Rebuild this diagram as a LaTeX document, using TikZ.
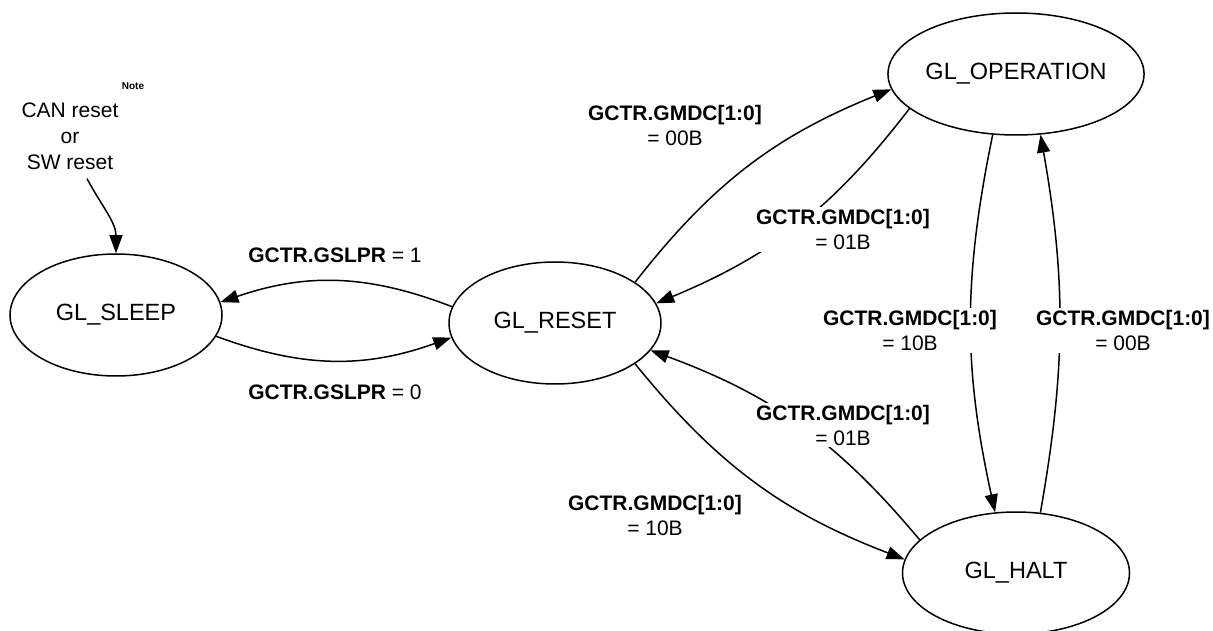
\documentclass[tikz,border=0pt]{standalone}
\usepackage{fontspec}
\setmainfont{Liberation Sans}
\usepackage{tikz}
\usetikzlibrary{arrows.meta,positioning,shapes.geometric}

\begin{document}
\begin{tikzpicture}[x=1pt,y=1pt,
    glstate/.style={draw, ellipse, line width=1.5pt, minimum width=212pt, minimum height=122pt,
        inner sep=0pt, font=\fontsize{23.5}{28}\selectfont},
    cond/.style={fill=white, align=center, inner sep=2pt, font=\fontsize{21}{25}\selectfont},
    trans/.style={line width=1.5pt, -{Triangle[length=18pt,width=13pt]}}]
    \useasboundingbox (0,0) rectangle (1213,630);

    % States
    \node[glstate] (sleep) at (116,315) {GL\_SLEEP};
    \node[glstate] (reset) at (555,307) {GL\_RESET};
    \node[glstate, minimum width=227pt] (oper) at (1016,556) {GL\_OPERATION};
    \node[glstate, minimum width=227pt] (halt) at (1016,57) {GL\_HALT};

    % Entry into GL_SLEEP
    \node[align=center, inner sep=0pt, font=\fontsize{21}{26}\selectfont] (trig) at (70,494) {CAN reset\\or\\SW reset};
    \node[inner sep=0pt, font=\bfseries\fontsize{10}{12}\selectfont] (note) at (133,544) {Note};
    \draw[trans] ([xshift=17pt,yshift=-9pt]trig.south) to[out=-62,in=90] (sleep.north);

    % Sleep <-> reset
    \draw[trans] (reset.171) to[bend right=20] (sleep.7);
    \draw[trans] (sleep.-12) to[bend right=20] (reset.188);

    % Reset <-> operation
    \draw[trans] (reset.27) to[bend left=15] (oper.187);
    \draw[trans] (oper.198) to[bend left=15] (reset.11);

    % Reset <-> halt
    \draw[trans] (reset.-27) to[bend right=15] (halt.173);
    \draw[trans] (halt.161) to[bend right=15] (reset.-16);

    % Operation <-> halt
    \draw[trans] (oper.-111) to[bend right=12] (halt.109);
    \draw[trans] (halt.68) to[bend right=10] (oper.-68);

    % Conditions
    \node[cond] (slp1) at (335,375) {\textbf{GCTR.GSLPR} = 1};
    \node[cond] (slp0) at (335,238) {\textbf{GCTR.GSLPR} = 0};
    \node[cond] (toop) at (675,504.5) {\textbf{GCTR.GMDC[1:0]}\\= 00B};
    \node[cond] (fromop) at (843,400.5) {\textbf{GCTR.GMDC[1:0]}\\= 01B};
    \node[cond] (ophalt) at (910,299.5) {\textbf{GCTR.GMDC[1:0]}\\= 10B};
    \node[cond] (haltop) at (1123,299.5) {\textbf{GCTR.GMDC[1:0]}\\= 00B};
    \node[cond] (fromhalt) at (843,205) {\textbf{GCTR.GMDC[1:0]}\\= 01B};
    \node[cond] (tohalt) at (655,115) {\textbf{GCTR.GMDC[1:0]}\\= 10B};
\end{tikzpicture}
\end{document}
